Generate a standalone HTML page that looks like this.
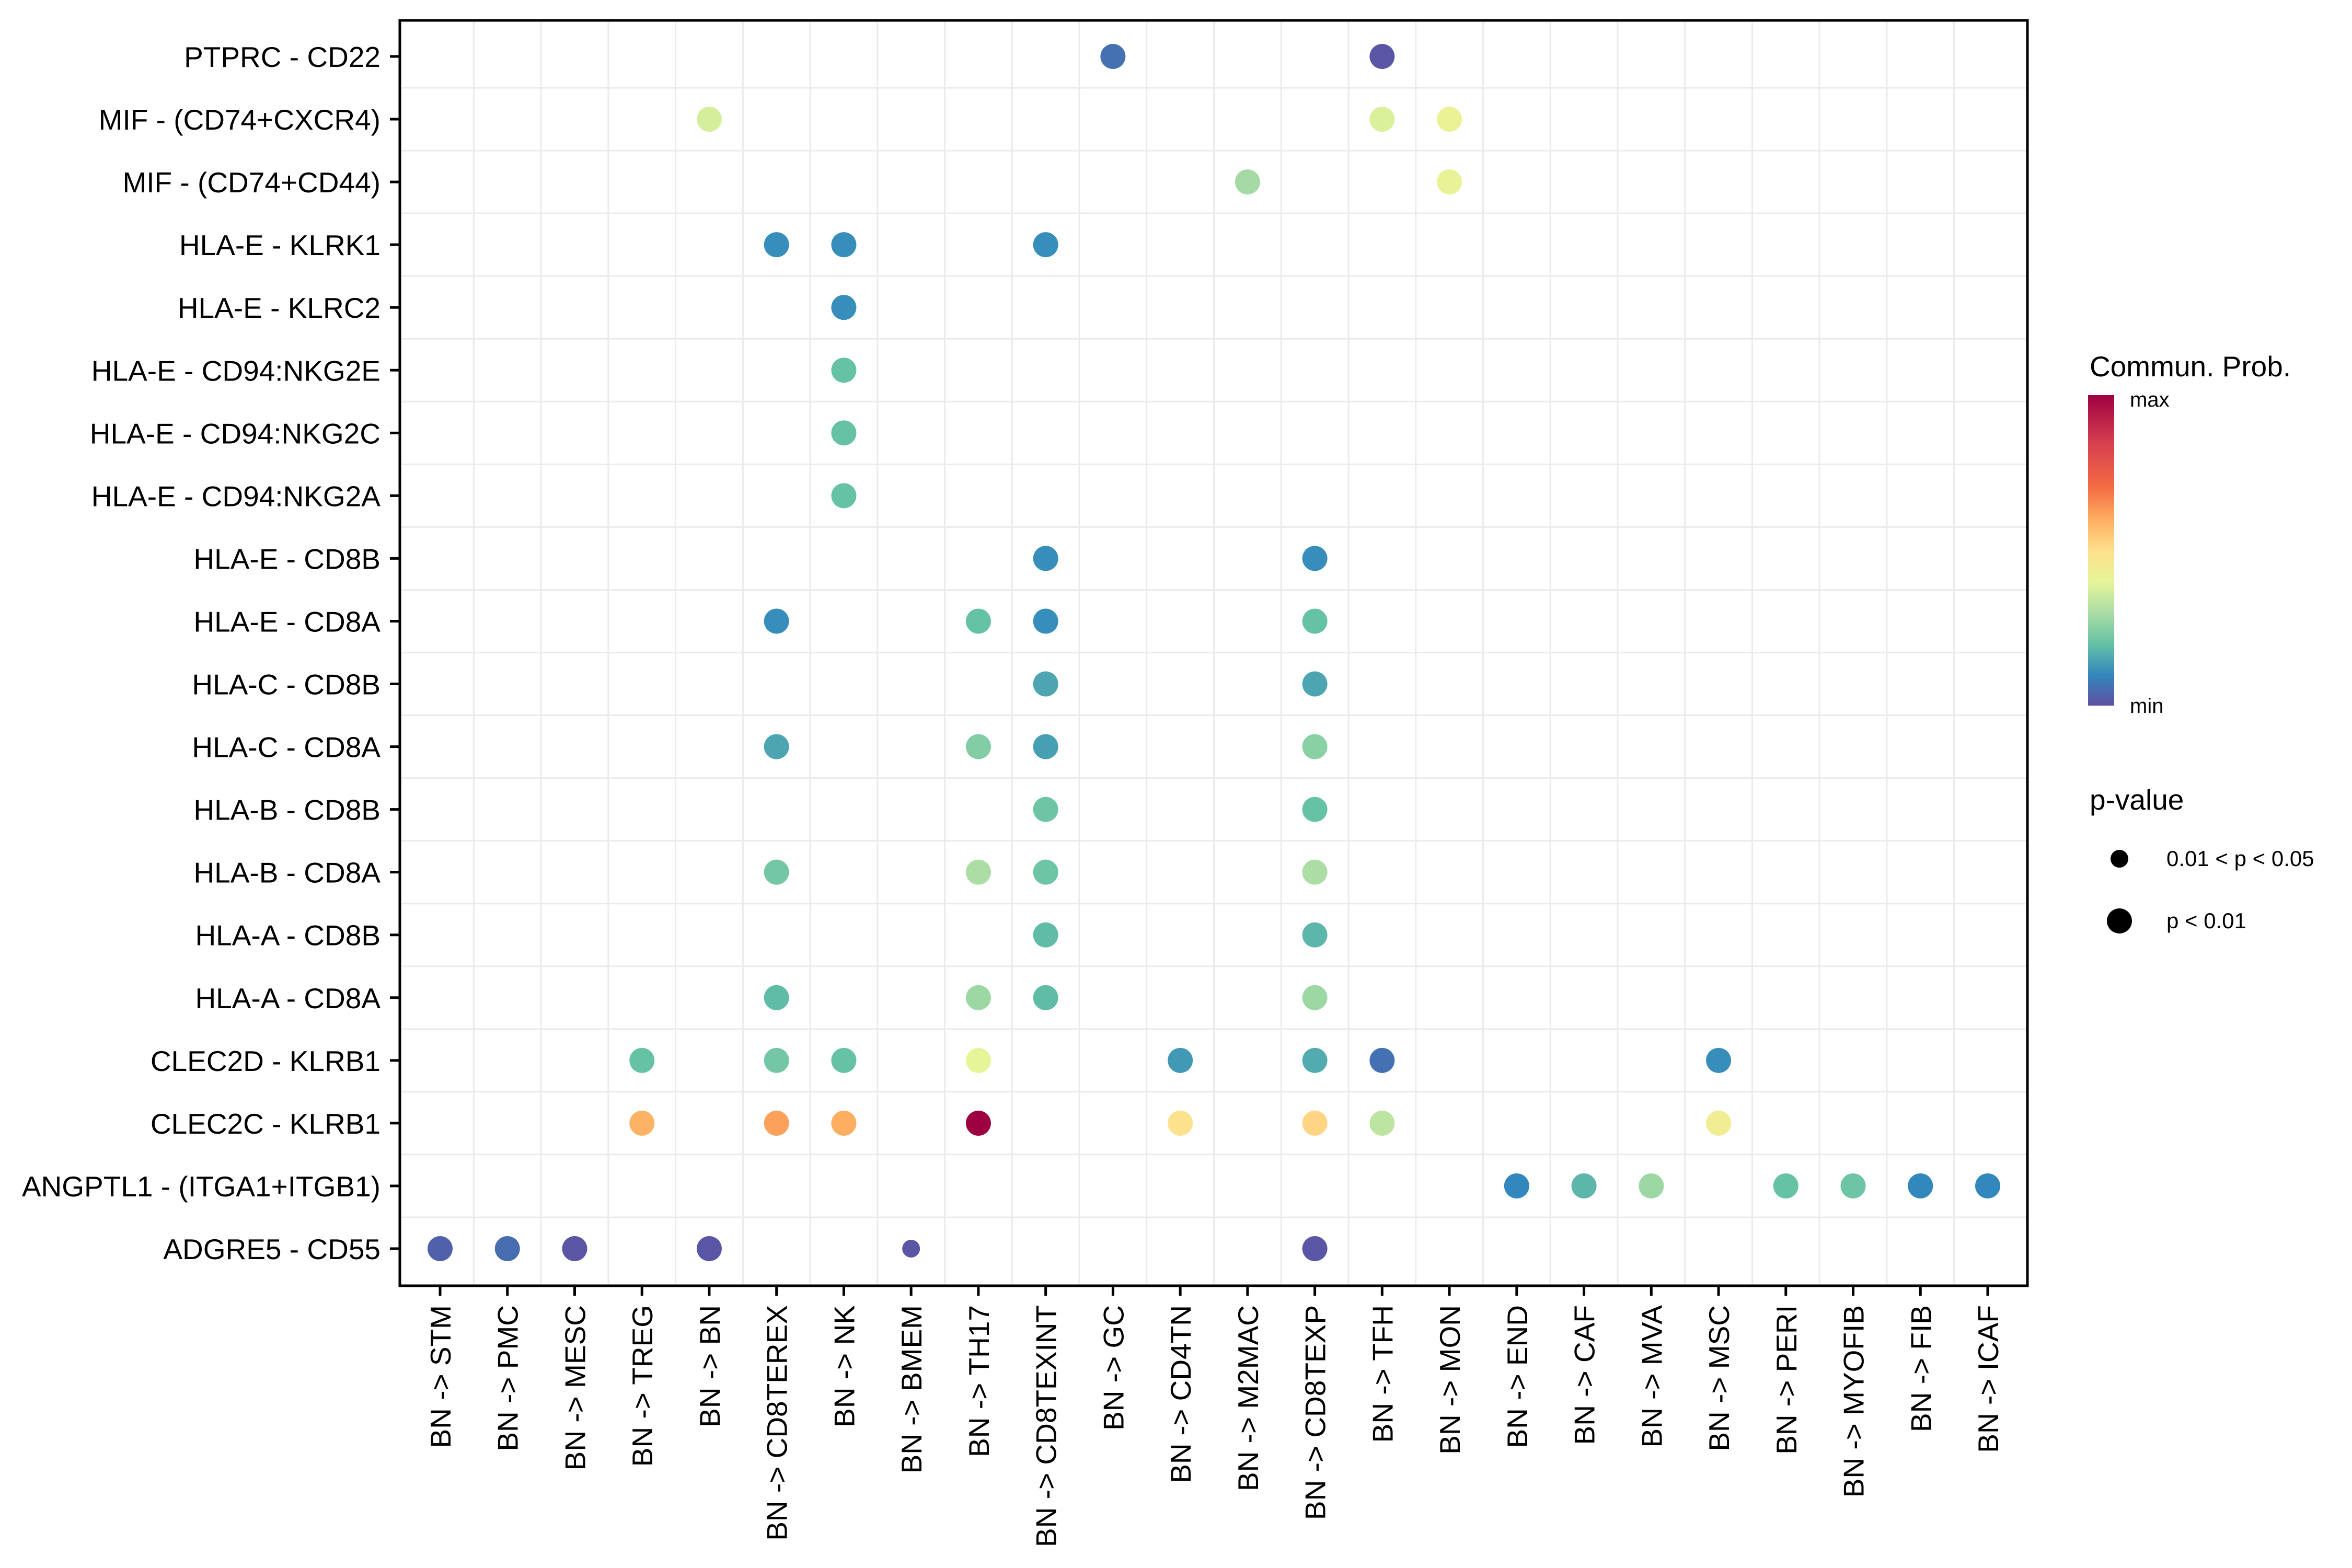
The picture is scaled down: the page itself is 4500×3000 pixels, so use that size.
<!DOCTYPE html>
<html><head><meta charset="utf-8"><style>
html,body{margin:0;padding:0;background:#fff;}
svg{display:block;font-family:"Liberation Sans",sans-serif;}
</style></head><body>
<svg id="chart" width="4500" height="3000" viewBox="0 0 4500 3000" xmlns="http://www.w3.org/2000/svg">
<defs>
<linearGradient id="spec" x1="0" y1="1" x2="0" y2="0">
<stop offset="0" stop-color="#5E4FA2"/><stop offset="0.1" stop-color="#3288BD"/><stop offset="0.2" stop-color="#66C2A5"/><stop offset="0.3" stop-color="#ABDDA4"/><stop offset="0.4" stop-color="#E6F598"/><stop offset="0.5" stop-color="#FEE08B"/><stop offset="0.6" stop-color="#FDAE61"/><stop offset="0.7" stop-color="#F46D43"/><stop offset="0.85" stop-color="#D53E4F"/><stop offset="1" stop-color="#9E0142"/>
</linearGradient>
</defs>
<g id="grid"></g>
<g id="dots"></g>
<rect x="765" y="39" width="3114" height="2421" fill="none" stroke="#000" stroke-width="5"/>
<g id="yaxis"></g>
<g id="xaxis"></g>
<g>
<text x="3998" y="720" font-size="55">Commun. Prob.</text>
<rect x="3995" y="756" width="50" height="594" fill="url(#spec)"/>
<text x="4075" y="778" font-size="40">max</text>
<text x="4075" y="1364" font-size="40">min</text>
</g>
<g>
<text x="3998" y="1549" font-size="55">p-value</text>
<circle cx="4055" cy="1643" r="17" fill="#000"/>
<text x="4145" y="1657" font-size="42">0.01 &lt; p &lt; 0.05</text>
<circle cx="4055" cy="1762" r="24" fill="#000"/>
<text x="4145" y="1776" font-size="42">p &lt; 0.01</text>
</g>
</svg>
<script>
const rows = ["PTPRC - CD22","MIF - (CD74+CXCR4)","MIF - (CD74+CD44)","HLA-E - KLRK1","HLA-E - KLRC2","HLA-E - CD94:NKG2E","HLA-E - CD94:NKG2C","HLA-E - CD94:NKG2A","HLA-E - CD8B","HLA-E - CD8A","HLA-C - CD8B","HLA-C - CD8A","HLA-B - CD8B","HLA-B - CD8A","HLA-A - CD8B","HLA-A - CD8A","CLEC2D - KLRB1","CLEC2C - KLRB1","ANGPTL1 - (ITGA1+ITGB1)","ADGRE5 - CD55"];
const cols = ["BN -> STM","BN -> PMC","BN -> MESC","BN -> TREG","BN -> BN","BN -> CD8TEREX","BN -> NK","BN -> BMEM","BN -> TH17","BN -> CD8TEXINT","BN -> GC","BN -> CD4TN","BN -> M2MAC","BN -> CD8TEXP","BN -> TFH","BN -> MON","BN -> END","BN -> CAF","BN -> MVA","BN -> MSC","BN -> PERI","BN -> MYOFIB","BN -> FIB","BN -> ICAF"];
const pointRow = [0,0, 1,1,1, 2,2, 3,3,3, 4, 5, 6, 7, 8,8, 9,9,9,9, 10,10, 11,11,11,11, 12,12, 13,13,13,13, 14,14, 15,15,15,15, 16,16,16,16,16,16,16,16, 17,17,17,17,17,17,17,17, 18,18,18,18,18,18,18, 19,19,19,19,19,19];
const pointCol = [10,14, 4,14,15, 12,15, 5,6,9, 6, 6, 6, 6, 9,13, 5,8,9,13, 9,13, 5,8,9,13, 9,13, 5,8,9,13, 9,13, 5,8,9,13, 3,5,6,8,11,13,14,19, 3,5,6,8,11,13,14,19, 16,17,18,20,21,22,23, 0,1,2,4,7,13];
const pointProb = [0.06,0.01, 0.37,0.38,0.42, 0.29,0.41, 0.11,0.11,0.11, 0.11, 0.2, 0.2, 0.2, 0.11,0.11, 0.11,0.2,0.11,0.2, 0.15,0.15, 0.15,0.24,0.14,0.25, 0.21,0.2, 0.22,0.3,0.21,0.3, 0.19,0.18, 0.19,0.28,0.19,0.28, 0.2,0.22,0.2,0.4,0.13,0.16,0.06,0.11, 0.59,0.62,0.6,1.0,0.49,0.52,0.33,0.44, 0.1,0.18,0.28,0.2,0.21,0.1,0.1, 0.03,0.05,0.01,0.01,0.01,0.01];
const pointSig = [1,1, 1,1,1, 1,1, 1,1,1, 1, 1, 1, 1, 1,1, 1,1,1,1, 1,1, 1,1,1,1, 1,1, 1,1,1,1, 1,1, 1,1,1,1, 1,1,1,1,1,1,1,1, 1,1,1,1,1,1,1,1, 1,1,1,1,1,1,1, 1,1,1,1,0,1];

const NS="http://www.w3.org/2000/svg";
const x0=842, dx=(3803-842)/23, y0=108, dy=(2389-108)/19;
const L=765,R=3879,T=39,B=2460;
function xs(i){return x0+i*dx;}
function ys(j){return y0+j*dy;}
const stops=[[0,[94,79,162]],[0.1,[50,136,189]],[0.2,[102,194,165]],[0.3,[171,221,164]],[0.4,[230,245,152]],[0.5,[254,224,139]],[0.6,[253,174,97]],[0.7,[244,109,67]],[0.85,[213,62,79]],[1,[158,1,66]]];
function color(v){for(let k=1;k<stops.length;k++){if(v<=stops[k][0]){const a=stops[k-1],b=stops[k],t=(v-a[0])/(b[0]-a[0]);return "rgb("+a[1].map((c,i)=>Math.round(c+(b[1][i]-c)*t)).join(",")+")";}}return "rgb(158,1,66)";}
function mk(tag,attrs,parent){const e=document.createElementNS(NS,tag);for(const k in attrs)e.setAttribute(k,attrs[k]);parent.appendChild(e);return e;}
const grid=document.getElementById('grid');
for(let i=0;i<cols.length-1;i++){const x=xs(i+0.5);const l=mk('line',{x1:x,x2:x,y1:T,y2:B,stroke:'#ebebeb','stroke-width':3},grid);

}
for(let j=0;j<rows.length-1;j++){const y=ys(j+0.5);const l=mk('line',{x1:L,x2:R,y1:y,y2:y,stroke:'#ebebeb','stroke-width':3},grid);

}
const ya=document.getElementById('yaxis');
rows.forEach((r,j)=>{const y=ys(j);const t=mk('line',{x1:746,x2:765,y1:y,y2:y,stroke:'#000','stroke-width':5},ya);


const tx=mk('text',{x:728,y:y+20,'font-size':55,'text-anchor':'end'},ya);tx.textContent=r;

});
const xa=document.getElementById('xaxis');
cols.forEach((c,i)=>{const x=xs(i);const t=mk('line',{x1:x,x2:x,y1:2460,y2:2479,stroke:'#000','stroke-width':5},xa);


const tx=mk('text',{x:0,y:0,'font-size':55,'text-anchor':'end',transform:'translate('+(x+20)+',2497) rotate(-90)'},xa);tx.textContent=c;

});
const dots=document.getElementById('dots');
for(let k=0;k<pointRow.length;k++){const c=mk('circle',{cx:xs(pointCol[k]),cy:ys(pointRow[k]),r:pointSig[k]?24:17,fill:color(pointProb[k])},dots);

}
</script>
</body></html>
